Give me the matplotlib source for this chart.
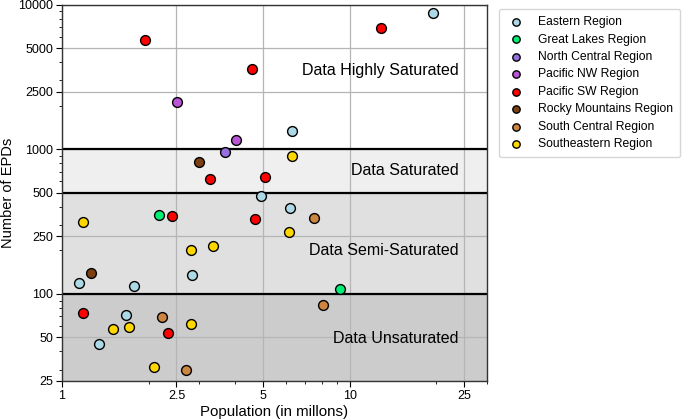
import matplotlib
matplotlib.use("Agg")
import matplotlib.pyplot as plt
from matplotlib.ticker import FixedLocator, FixedFormatter, NullFormatter

plt.rcParams['font.family'] = ['Liberation Sans', 'DejaVu Sans']

regions = ["Eastern Region", "Great Lakes Region", "North Central Region",
           "Pacific NW Region", "Pacific SW Region", "Rocky Mountains Region",
           "South Central Region", "Southeastern Region"]
colors = ["#add8e6", "#00ee76", "#9370db", "#ba55d3", "#ff0000",
          "#7b3f14", "#cd853f", "#ffd700"]

eastern_pop = [1.15, 1.34, 1.67, 1.78, 2.83, 4.91, 6.22, 6.29, 19.4]
eastern_epd = [119, 45, 71, 113, 136, 477, 394, 1338, 8810]
greatlakes_pop = [2.18, 9.23]
greatlakes_epd = [351, 109]
northcentral_pop = [3.70]
northcentral_epd = [957]
pacnw_pop = [2.51, 4.04]
pacnw_epd = [2134, 1160]
pacsw_pop = [1.94, 4.56, 12.8, 3.26, 5.07, 2.41, 4.68, 1.18, 2.33]
pacsw_epd = [5675, 3608, 6870, 627, 643, 346, 331, 74, 54]
rocky_pop = [3.0, 1.26]
rocky_epd = [813, 140]
southcentral_pop = [7.5, 2.22, 8.08, 2.70]
southcentral_epd = [336, 69, 84, 30]
southeastern_pop = [6.29, 1.18, 2.81, 3.34, 6.17, 1.51, 1.71, 2.80, 2.09]
southeastern_epd = [903, 314, 200, 215, 268, 57, 59, 62, 31]

series = [(eastern_pop, eastern_epd), (greatlakes_pop, greatlakes_epd),
          (northcentral_pop, northcentral_epd), (pacnw_pop, pacnw_epd),
          (pacsw_pop, pacsw_epd), (rocky_pop, rocky_epd),
          (southcentral_pop, southcentral_epd), (southeastern_pop, southeastern_epd)]

bands = [25, 100, 500, 1000, 10000]
band_colors = ["#cccccc", "#e0e0e0", "#efefef", "#ffffff"]
band_labels = ["Data Unsaturated", "Data Semi-Saturated", "Data Saturated", "Data Highly Saturated"]
label_y = [49.5, 201, 708, 3535]

yticks = [25, 50, 100, 250, 500, 1000, 2500, 5000, 10000]
xticks = [1, 2.5, 5, 10, 25]

fig = plt.figure(figsize=(6.85, 4.2), dpi=100)
ax = fig.add_axes([0.0905, 0.0929, 0.6205, 0.8959])
ax.set_xscale('log')
ax.set_yscale('log')
ax.set_xlim(1, 30)
ax.set_ylim(25, 10000)

for i in range(4):
    ax.axhspan(bands[i], bands[i + 1], color=band_colors[i], zorder=0, lw=0)
for b in bands[1:4]:
    ax.axhline(b, color='black', lw=1.6, zorder=2)

ax.set_axisbelow(True)
ax.grid(True, which='major', color='#b5b5b5', lw=0.9, zorder=1)

for name, c, (xs, ys) in zip(regions, colors, series):
    ax.scatter(xs, ys, s=50, c=c, edgecolors='black', linewidths=1.0, zorder=3, label=name)

for lab, ly in zip(band_labels, label_y):
    ax.text(23.9, ly, lab, ha='right', va='center', fontsize=11.5, zorder=4)

ax.xaxis.set_major_locator(FixedLocator(xticks))
ax.xaxis.set_major_formatter(FixedFormatter([str(t) for t in xticks]))
ax.xaxis.set_minor_formatter(NullFormatter())
ax.yaxis.set_major_locator(FixedLocator(yticks))
ax.yaxis.set_major_formatter(FixedFormatter([str(t) for t in yticks]))
ax.yaxis.set_minor_formatter(NullFormatter())
ax.tick_params(which='major', labelsize=9, length=4, width=0.8, pad=2.5)
ax.tick_params(which='minor', length=2, width=0.6)

for s in ax.spines.values():
    s.set_color('#333333')
    s.set_linewidth(1.0)

ax.set_xlabel("Population (in millons)", fontsize=10.8, labelpad=2)
ax.set_ylabel("Number of EPDs", fontsize=10.5, labelpad=2)

leg = ax.legend(loc='upper left', bbox_to_anchor=(1.015, 1.005), fontsize=8.7,
                markerscale=0.75, frameon=True, fancybox=True, edgecolor='#cccccc',
                handlelength=1.6, handletextpad=1.0, labelspacing=0.45, borderpad=0.6)

fig.savefig("out.png", dpi=100)
